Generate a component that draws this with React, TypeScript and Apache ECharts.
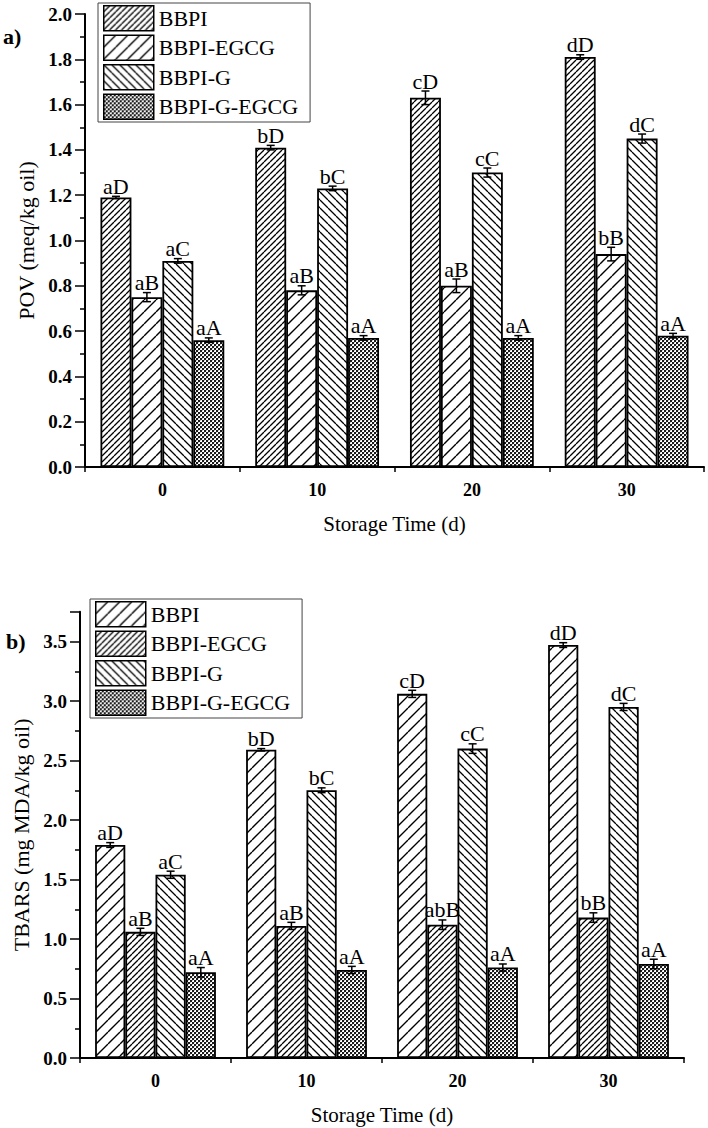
import React, { useEffect, useRef } from 'react';
import * as echarts from 'echarts';

const FONT = '"Liberation Serif", "Times New Roman", serif';

const times = ['0', '10', '20', '30'];
const seriesNames = ['BBPI', 'BBPI-EGCG', 'BBPI-G', 'BBPI-G-EGCG'];

// Panel a) POV (meq/kg oil)
const povBBPI = [1.19, 1.41, 1.63, 1.81];
const povEGCG = [0.75, 0.78, 0.8, 0.94];
const povG = [0.91, 1.23, 1.3, 1.45];
const povGEGCG = [0.56, 0.57, 0.57, 0.58];
const povErrBBPI = [0.005, 0.01, 0.03, 0.01];
const povErrEGCG = [0.02, 0.02, 0.03, 0.03];
const povErrG = [0.01, 0.01, 0.02, 0.02];
const povErrGEGCG = [0.01, 0.01, 0.01, 0.01];
const povLblBBPI = ['aD', 'bD', 'cD', 'dD'];
const povLblEGCG = ['aB', 'aB', 'aB', 'bB'];
const povLblG = ['aC', 'bC', 'cC', 'dC'];
const povLblGEGCG = ['aA', 'aA', 'aA', 'aA'];
const povTicks = [0, 0.2, 0.4, 0.6, 0.8, 1.0, 1.2, 1.4, 1.6, 1.8, 2.0];

// Panel b) TBARS (mg MDA/kg oil)
const tbBBPI = [1.79, 2.59, 3.06, 3.47];
const tbEGCG = [1.06, 1.11, 1.12, 1.18];
const tbG = [1.54, 2.25, 2.6, 2.95];
const tbGEGCG = [0.72, 0.74, 0.76, 0.79];
const tbErrBBPI = [0.02, 0.01, 0.03, 0.02];
const tbErrEGCG = [0.03, 0.03, 0.04, 0.04];
const tbErrG = [0.03, 0.02, 0.04, 0.03];
const tbErrGEGCG = [0.04, 0.03, 0.03, 0.04];
const tbLblBBPI = ['aD', 'bD', 'cD', 'dD'];
const tbLblEGCG = ['aB', 'aB', 'abB', 'bB'];
const tbLblG = ['aC', 'bC', 'cC', 'dC'];
const tbLblGEGCG = ['aA', 'aA', 'aA', 'aA'];
const tbTicks = [0, 0.5, 1.0, 1.5, 2.0, 2.5, 3.0, 3.5];

function makeHatch(size: number, dir: string, lw: number) {
  const c = document.createElement('canvas');
  c.width = size;
  c.height = size;
  const ctx = c.getContext('2d')!;
  ctx.fillStyle = '#fff';
  ctx.fillRect(0, 0, size, size);
  ctx.strokeStyle = '#000';
  ctx.lineWidth = lw;
  ctx.beginPath();
  for (const o of [-size, 0, size]) {
    if (dir === '/') {
      ctx.moveTo(o, size);
      ctx.lineTo(o + size, 0);
    } else {
      ctx.moveTo(o, 0);
      ctx.lineTo(o + size, size);
    }
  }
  ctx.stroke();
  return c;
}

function makeDots() {
  const c = document.createElement('canvas');
  c.width = 4;
  c.height = 4;
  const ctx = c.getContext('2d')!;
  ctx.fillStyle = '#1a1a1a';
  ctx.fillRect(0, 0, 4, 4);
  ctx.fillStyle = '#fff';
  ctx.fillRect(0, 0, 2, 2);
  ctx.fillRect(2, 2, 2, 2);
  ctx.fillStyle = '#555';
  ctx.fillRect(0, 0, 0.6, 0.6);
  ctx.fillRect(2, 2, 0.6, 0.6);
  return c;
}

export default function App() {
  const ref = useRef<HTMLDivElement>(null);
  useEffect(() => {
    const chart = echarts.init(ref.current!, null, { renderer: 'svg' });
    const pDense = { image: makeHatch(6, '/', 1.3), repeat: 'repeat' };
    const pSparse = { image: makeHatch(12, '/', 1.4), repeat: 'repeat' };
    const pBack = { image: makeHatch(8, '\\', 1.3), repeat: 'repeat' };
    const pDots = { image: makeDots(), repeat: 'repeat' };
    const topPat = [pDense, pSparse, pBack, pDots];
    const botPat = [pSparse, pDense, pBack, pDots];

    const topVals = [povBBPI, povEGCG, povG, povGEGCG];
    const topErr = [povErrBBPI, povErrEGCG, povErrG, povErrGEGCG];
    const topLbl = [povLblBBPI, povLblEGCG, povLblG, povLblGEGCG];
    const botVals = [tbBBPI, tbEGCG, tbG, tbGEGCG];
    const botErr = [tbErrBBPI, tbErrEGCG, tbErrG, tbErrGEGCG];
    const botLbl = [tbLblBBPI, tbLblEGCG, tbLblG, tbLblGEGCG];

    const black = { color: '#000', width: 1.5 };

    const xMain = (g: number) => ({
      type: 'category',
      gridIndex: g,
      data: times,
      position: 'bottom',
      axisLine: { lineStyle: { color: '#000', width: 2 } },
      axisTick: { alignWithLabel: true, length: 8, lineStyle: black },
      axisLabel: { color: '#000', fontSize: 18, fontWeight: 'bold', fontFamily: FONT, margin: 14 },
      name: 'Storage Time (d)',
      nameLocation: 'middle',
      nameGap: 46,
      nameTextStyle: { color: '#000', fontSize: 21, fontFamily: FONT },
    });
    const xBound = (g: number) => ({
      type: 'category',
      gridIndex: g,
      data: times,
      position: 'bottom',
      axisLine: { show: false },
      axisTick: { show: true, length: 5, lineStyle: black },
      axisLabel: { show: false },
    });
    const yAxis = (g: number, ticks: number[], max: number, name: string, gap: number) => ({
      type: 'value',
      gridIndex: g,
      min: ticks[0],
      max,
      interval: ticks[1] - ticks[0],
      axisLine: { show: true, lineStyle: { color: '#000', width: 2 } },
      axisTick: { show: true, length: 10, lineStyle: black },
      minorTick: { show: true, splitNumber: 2, length: 5, lineStyle: black },
      splitLine: { show: false },
      axisLabel: {
        color: '#000',
        fontSize: 19,
        fontWeight: 'bold',
        fontFamily: FONT,
        margin: 13,
        showMaxLabel: ticks[ticks.length - 1] === max,
        formatter: (v: number) => v.toFixed(1),
      },
      name,
      nameLocation: 'middle',
      nameGap: gap,
      nameTextStyle: { color: '#000', fontSize: 22, fontFamily: FONT },
    });

    const legend = (left: number, top: number, pats: any[]) => ({
      left,
      top,
      orient: 'vertical',
      itemWidth: 50,
      itemHeight: 25,
      itemGap: 3,
      padding: [2, 12, 2, 5],
      borderColor: '#444',
      borderWidth: 1,
      backgroundColor: '#fff',
      selectedMode: false,
      icon: 'rect',
      textStyle: { fontSize: 22, color: '#000', fontFamily: FONT },
      data: seriesNames.map((n, i) => ({
        name: n,
        itemStyle: { color: pats[i], borderColor: '#000', borderWidth: 1.5 },
      })),
    });

    const bars = (vals: number[][], pats: any[], xi: number, yi: number) =>
      vals.map((v, k) => ({
        type: 'bar',
        name: seriesNames[k],
        xAxisIndex: xi,
        yAxisIndex: yi,
        data: v,
        barGap: '0%',
        barCategoryGap: '20%',
        itemStyle: { color: pats[k], borderColor: '#000', borderWidth: 1.8 },
        z: 2,
      }));

    const errSeries = (vals: number[][], errs: number[][], lbls: string[][], xi: number, yi: number, id: string) => {
      const data: number[][] = [];
      const labels: string[] = [];
      vals.forEach((v, k) =>
        v.forEach((val, i) => {
          data.push([i, val, errs[k][i], k]);
          labels.push(lbls[k][i]);
        })
      );
      return {
        type: 'custom',
        name: id,
        xAxisIndex: xi,
        yAxisIndex: yi,
        clip: false,
        z: 5,
        data,
        renderItem: (params: any, api: any) => {
          const ci = api.value(0);
          const v = api.value(1);
          const e = api.value(2);
          const k = api.value(3);
          const c = api.coord([ci, v]);
          const band = api.size([1, 0])[0];
          const bw = (band * 0.8) / 4;
          const x = c[0] + (k - 1.5) * bw;
          const yt = api.coord([ci, v + e])[1];
          const yb = api.coord([ci, v - e])[1];
          const cap = 4;
          const ls = { stroke: '#000', lineWidth: 1.5 };
          return {
            type: 'group',
            children: [
              { type: 'line', shape: { x1: x, y1: yt, x2: x, y2: yb }, style: ls },
              { type: 'line', shape: { x1: x - cap, y1: yt, x2: x + cap, y2: yt }, style: ls },
              { type: 'line', shape: { x1: x - cap, y1: yb, x2: x + cap, y2: yb }, style: ls },
              {
                type: 'text',
                style: {
                  x,
                  y: yt + 1,
                  text: labels[params.dataIndex],
                  align: 'center',
                  verticalAlign: 'bottom',
                  fontSize: 22,
                  fontFamily: FONT,
                  fill: '#000',
                },
              },
            ],
          };
        },
      };
    };

    chart.setOption({
      animation: false,
      backgroundColor: '#fff',
      grid: [
        { left: 85, top: 14, width: 619, height: 453 },
        { left: 80, top: 611.75, width: 604, height: 446.25 },
      ],
      xAxis: [xMain(0), xBound(0), xMain(1), xBound(1)],
      yAxis: [
        yAxis(0, povTicks, 2.0, 'POV (meq/kg oil)', 46),
        yAxis(1, tbTicks, 3.75, 'TBARS (mg MDA/kg oil)', 42),
      ],
      legend: [legend(98, 3, topPat), legend(90, 599, botPat)],
      graphic: [
        { type: 'text', left: 3, top: 25, style: { text: 'a)', fontSize: 22, fontWeight: 'bold', fontFamily: FONT, fill: '#000' } },
        { type: 'text', left: 6, top: 630, style: { text: 'b)', fontSize: 22, fontWeight: 'bold', fontFamily: FONT, fill: '#000' } },
      ],
      series: [
        ...bars(topVals, topPat, 0, 0),
        ...bars(botVals, botPat, 2, 1),
        errSeries(topVals, topErr, topLbl, 0, 0, 'errTop'),
        errSeries(botVals, botErr, botLbl, 2, 1, 'errBot'),
      ],
    });
    return () => chart.dispose();
  }, []);
  return <div ref={ref} style={{ position: 'absolute', left: 0, top: 0, width: 708, height: 1128 }} />;
}
